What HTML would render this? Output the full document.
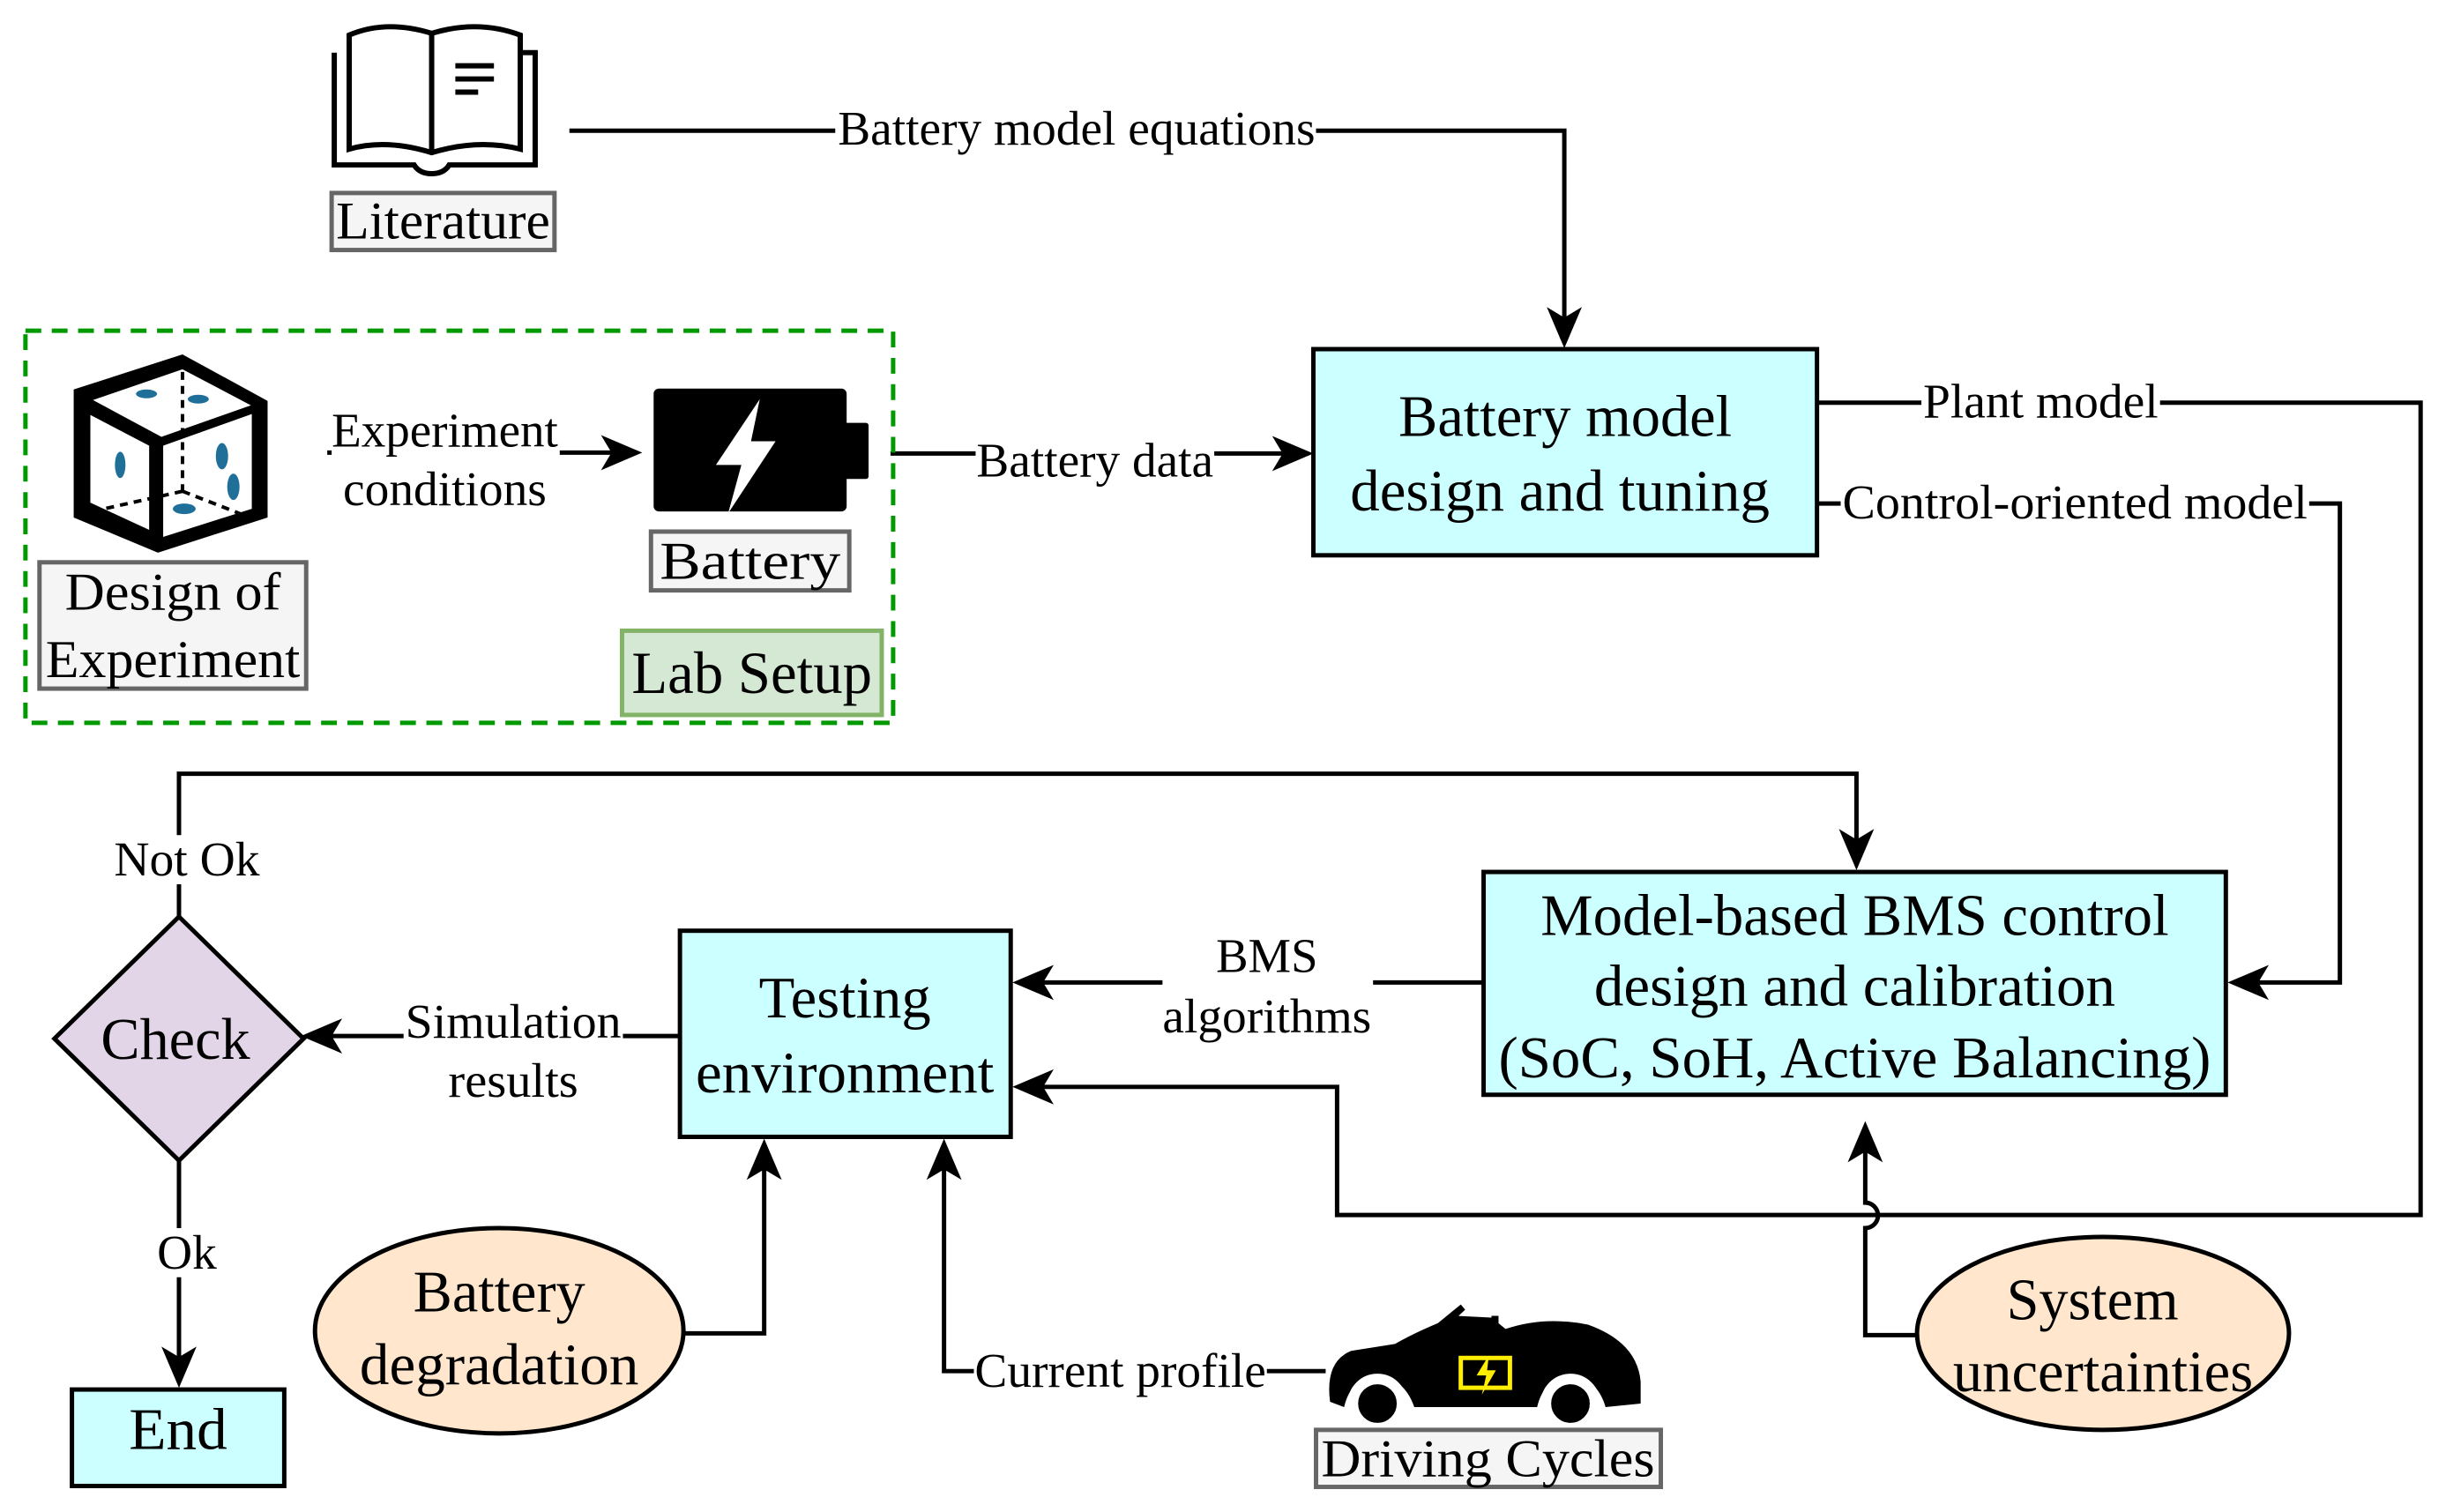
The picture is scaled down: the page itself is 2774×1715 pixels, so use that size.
<!DOCTYPE html>
<html><head><meta charset="utf-8"><style>
html,body{margin:0;padding:0;background:#fff;}
svg{display:block;}
text{font-family:"Liberation Serif",serif;fill:#000;}
</style></head><body>
<svg width="2774" height="1715" viewBox="0 0 2774 1715" xmlns="http://www.w3.org/2000/svg">
<g transform="scale(0.995)">
<g fill="none" stroke="#000" stroke-width="5">
<polyline points="649,149 1783,149 1783,380"/>
<line x1="1015" y1="517" x2="1480" y2="517"/>
<line x1="373" y1="516" x2="715" y2="516"/>
<polyline points="2071,459 2759,459 2759,1385 1524,1385 1524,1239 1170,1239"/>
<polyline points="2071,574 2667,574 2667,1120 2553,1120"/>
<polyline points="204,1045 204,882 2116,882 2116,975"/>
<line x1="1691" y1="1120" x2="1170" y2="1120"/>
<line x1="775" y1="1181" x2="358" y2="1181"/>
<line x1="204" y1="1323" x2="204" y2="1566"/>
<polyline points="779,1520 871,1520 871,1315"/>
<polyline points="1511,1563 1076,1563 1076,1315"/>
<path d="M2185,1522 H2126 V1400 A14,14 0 0 0 2126,1371 V1295"/>
</g>
<g fill="#000">
<path d="M1783,397 L1763,350 L1783,362 L1803,350 Z"/>
<path d="M1497,517 L1450,497 L1462,517 L1450,537 Z"/>
<path d="M732,516 L685,496 L697,516 L685,536 Z"/>
<path d="M2539,1120 L2586,1100 L2574,1120 L2586,1140 Z"/>
<path d="M2116,992 L2096,945 L2116,957 L2136,945 Z"/>
<path d="M1154,1120 L1201,1100 L1189,1120 L1201,1140 Z"/>
<path d="M1154,1239 L1201,1219 L1189,1239 L1201,1259 Z"/>
<path d="M343,1181 L390,1161 L378,1181 L390,1201 Z"/>
<path d="M204,1582 L184,1535 L204,1547 L224,1535 Z"/>
<path d="M871,1298 L851,1345 L871,1333 L891,1345 Z"/>
<path d="M1076,1298 L1056,1345 L1076,1333 L1096,1345 Z"/>
<path d="M2126,1278 L2106,1325 L2126,1313 L2146,1325 Z"/>
</g>

<rect x="29" y="377" width="989" height="447" fill="none" stroke="#009900" stroke-width="5" stroke-dasharray="18,12"/>

<g fill="none" stroke="#000" stroke-width="6">
<path d="M381,60 V188 H472 Q478,198 492,198 Q506,198 512,188 H610 V60 H596"/>
<path d="M398,60 V40 Q440,22 492,38 Q545,22 593,40 V170 Q545,158 492,174 Q440,158 398,170 Z"/>
<line x1="492" y1="38" x2="492" y2="174"/>
<line x1="519" y1="75" x2="563" y2="75"/>
<line x1="519" y1="90" x2="563" y2="90"/>
<line x1="519" y1="105" x2="545" y2="105"/>
</g>

<g>
<path d="M84,444 L208,404 L305,457 L305,590 L180,630 L84,590 Z" fill="#000"/>
<path d="M106,456 L208,421 L286,462 L184,498 Z" fill="#fff"/>
<path d="M103,473 L170,508 L170,604 L103,573 Z" fill="#fff"/>
<path d="M186,508 L287,472 L287,580 L186,612 Z" fill="#fff"/>
<g stroke="#000" stroke-width="4" stroke-dasharray="9,7" fill="none">
<line x1="208" y1="424" x2="208" y2="560"/>
<line x1="208" y1="560" x2="110" y2="582"/>
<line x1="208" y1="560" x2="285" y2="590"/>
</g>
<g fill="#1f6f99">
<ellipse cx="167" cy="449" rx="12" ry="5"/>
<ellipse cx="226" cy="455" rx="12" ry="5"/>
<ellipse cx="137" cy="530" rx="6" ry="15"/>
<ellipse cx="253" cy="520" rx="7" ry="15"/>
<ellipse cx="266" cy="555" rx="7" ry="15"/>
<ellipse cx="210" cy="580" rx="13" ry="6"/>
</g>
</g>

<rect x="745" y="443" width="220" height="140" rx="6" fill="#000"/>
<rect x="960" y="482" width="30" height="64" rx="3" fill="#000"/>
<path d="M866,455 L816,530 L845,530 L830,585 L884,503 L856,503 Z" fill="#fff"/>

<g>
<path d="M1516,1598 Q1510,1552 1540,1540 L1590,1532 Q1620,1515 1660,1500 L1700,1502 L1716,1515 Q1760,1500 1810,1510 Q1866,1530 1870,1575 L1870,1600 L1830,1604 Q1820,1570 1790,1570 Q1760,1570 1752,1604 L1612,1604 Q1600,1570 1570,1570 Q1540,1570 1532,1604 Z" fill="#000"/>
<path d="M1610,1532 L1665,1487 L1670,1493 L1625,1535 Z" fill="#000"/>
<rect x="1700" y="1500" width="8" height="30" fill="#000"/>
<circle cx="1570" cy="1600" r="28" fill="#000" stroke="#fff" stroke-width="12"/>
<circle cx="1790" cy="1600" r="28" fill="#000" stroke="#fff" stroke-width="12"/>
<rect x="1665" y="1548" width="56" height="34" fill="none" stroke="#ffee00" stroke-width="5"/>
<path d="M1697,1545 L1683,1568 L1694,1568 L1689,1590 L1705,1562 L1695,1562 Z" fill="#ffee00"/>
</g>

<g fill="#f5f5f5" stroke="#666" stroke-width="5">
<rect x="378" y="220" width="254" height="65"/>
<rect x="45" y="641" width="304" height="144"/>
<rect x="742" y="606" width="226" height="67"/>
<rect x="1500" y="1630" width="393" height="65"/>
</g>
<g font-size="61" text-anchor="middle">
<text x="505" y="272" fill="#333" textLength="244" lengthAdjust="spacingAndGlyphs">Literature</text>
<text x="197" y="695" fill="#333" textLength="246" lengthAdjust="spacingAndGlyphs">Design of</text>
<text x="197" y="772" fill="#333" textLength="290" lengthAdjust="spacingAndGlyphs">Experiment</text>
<text x="855" y="660" fill="#333" textLength="206" lengthAdjust="spacingAndGlyphs">Battery</text>
<text x="1696" y="1683" fill="#333" textLength="380" lengthAdjust="spacingAndGlyphs">Driving Cycles</text>
</g>
<rect x="709" y="719" width="296" height="96" fill="#d5e8d4" stroke="#82b366" stroke-width="5"/>
<text x="857" y="790" font-size="68" text-anchor="middle" textLength="274" lengthAdjust="spacingAndGlyphs">Lab Setup</text>

<g stroke="#000" stroke-width="5">
<rect x="1497" y="398" width="574" height="235" fill="#ccffff"/>
<rect x="1691" y="994" width="846" height="254" fill="#ccffff"/>
<rect x="775" y="1061" width="377" height="235" fill="#ccffff"/>
<rect x="82" y="1584" width="242" height="110" fill="#ccffff"/>
<path d="M204,1045 L346,1184 L204,1323 L62,1184 Z" fill="#e1d5e7"/>
<ellipse cx="569" cy="1517" rx="210" ry="117" fill="#ffe6cc"/>
<ellipse cx="2397" cy="1520" rx="212" ry="110" fill="#ffe6cc"/>
</g>
<g font-size="67" text-anchor="middle">
<text x="1784" y="497" textLength="380" lengthAdjust="spacingAndGlyphs">Battery model</text>
<text x="1778" y="582" textLength="478" lengthAdjust="spacingAndGlyphs">design and tuning</text>
<text x="2114" y="1066" textLength="716" lengthAdjust="spacingAndGlyphs">Model-based BMS control</text>
<text x="2114" y="1146" textLength="594" lengthAdjust="spacingAndGlyphs">design and calibration</text>
<text x="2114" y="1228" textLength="812" lengthAdjust="spacingAndGlyphs">(SoC, SoH, Active Balancing)</text>
<text x="963" y="1160" textLength="196" lengthAdjust="spacingAndGlyphs">Testing</text>
<text x="963" y="1245" textLength="340" lengthAdjust="spacingAndGlyphs">environment</text>
<text x="203" y="1652" textLength="112" lengthAdjust="spacingAndGlyphs">End</text>
<text x="200" y="1207" textLength="170" lengthAdjust="spacingAndGlyphs">Check</text>
<text x="569" y="1495" textLength="196" lengthAdjust="spacingAndGlyphs">Battery</text>
<text x="569" y="1578" textLength="318" lengthAdjust="spacingAndGlyphs">degradation</text>
<text x="2385" y="1504" textLength="196" lengthAdjust="spacingAndGlyphs">System</text>
<text x="2397" y="1586" textLength="342" lengthAdjust="spacingAndGlyphs">uncertainties</text>
</g>

<g font-size="55" text-anchor="middle">
<rect x="952" y="118" width="548" height="56" fill="#fff"/>
<text x="1227" y="165" textLength="544" lengthAdjust="spacingAndGlyphs">Battery model equations</text>
<rect x="1112" y="490" width="272" height="56" fill="#fff"/>
<text x="1248" y="543" textLength="270" lengthAdjust="spacingAndGlyphs">Battery data</text>
<rect x="378" y="460" width="260" height="120" fill="#fff"/>
<text x="507" y="509" textLength="258" lengthAdjust="spacingAndGlyphs">Experiment</text>
<text x="507" y="576" textLength="232" lengthAdjust="spacingAndGlyphs">conditions</text>
<rect x="2190" y="430" width="272" height="56" fill="#fff"/>
<text x="2326" y="476" textLength="268" lengthAdjust="spacingAndGlyphs">Plant model</text>
<rect x="2098" y="545" width="534" height="56" fill="#fff"/>
<text x="2365" y="591" textLength="530" lengthAdjust="spacingAndGlyphs">Control-oriented model</text>
<rect x="1325" y="1060" width="240" height="130" fill="#fff"/>
<text x="1444" y="1108" textLength="116" lengthAdjust="spacingAndGlyphs">BMS</text>
<text x="1444" y="1177" textLength="238" lengthAdjust="spacingAndGlyphs">algorithms</text>
<rect x="460" y="1135" width="250" height="125" fill="#fff"/>
<text x="585" y="1183" textLength="246" lengthAdjust="spacingAndGlyphs">Simulation</text>
<text x="585" y="1250" textLength="148" lengthAdjust="spacingAndGlyphs">results</text>
<rect x="120" y="952" width="180" height="56" fill="#fff"/>
<text x="213" y="998" textLength="166" lengthAdjust="spacingAndGlyphs">Not Ok</text>
<rect x="170" y="1400" width="86" height="56" fill="#fff"/>
<text x="213" y="1446" textLength="68" lengthAdjust="spacingAndGlyphs">Ok</text>
<rect x="1110" y="1535" width="334" height="56" fill="#fff"/>
<text x="1277" y="1581" textLength="332" lengthAdjust="spacingAndGlyphs">Current profile</text>
</g>
</g>
</svg>
</body></html>
